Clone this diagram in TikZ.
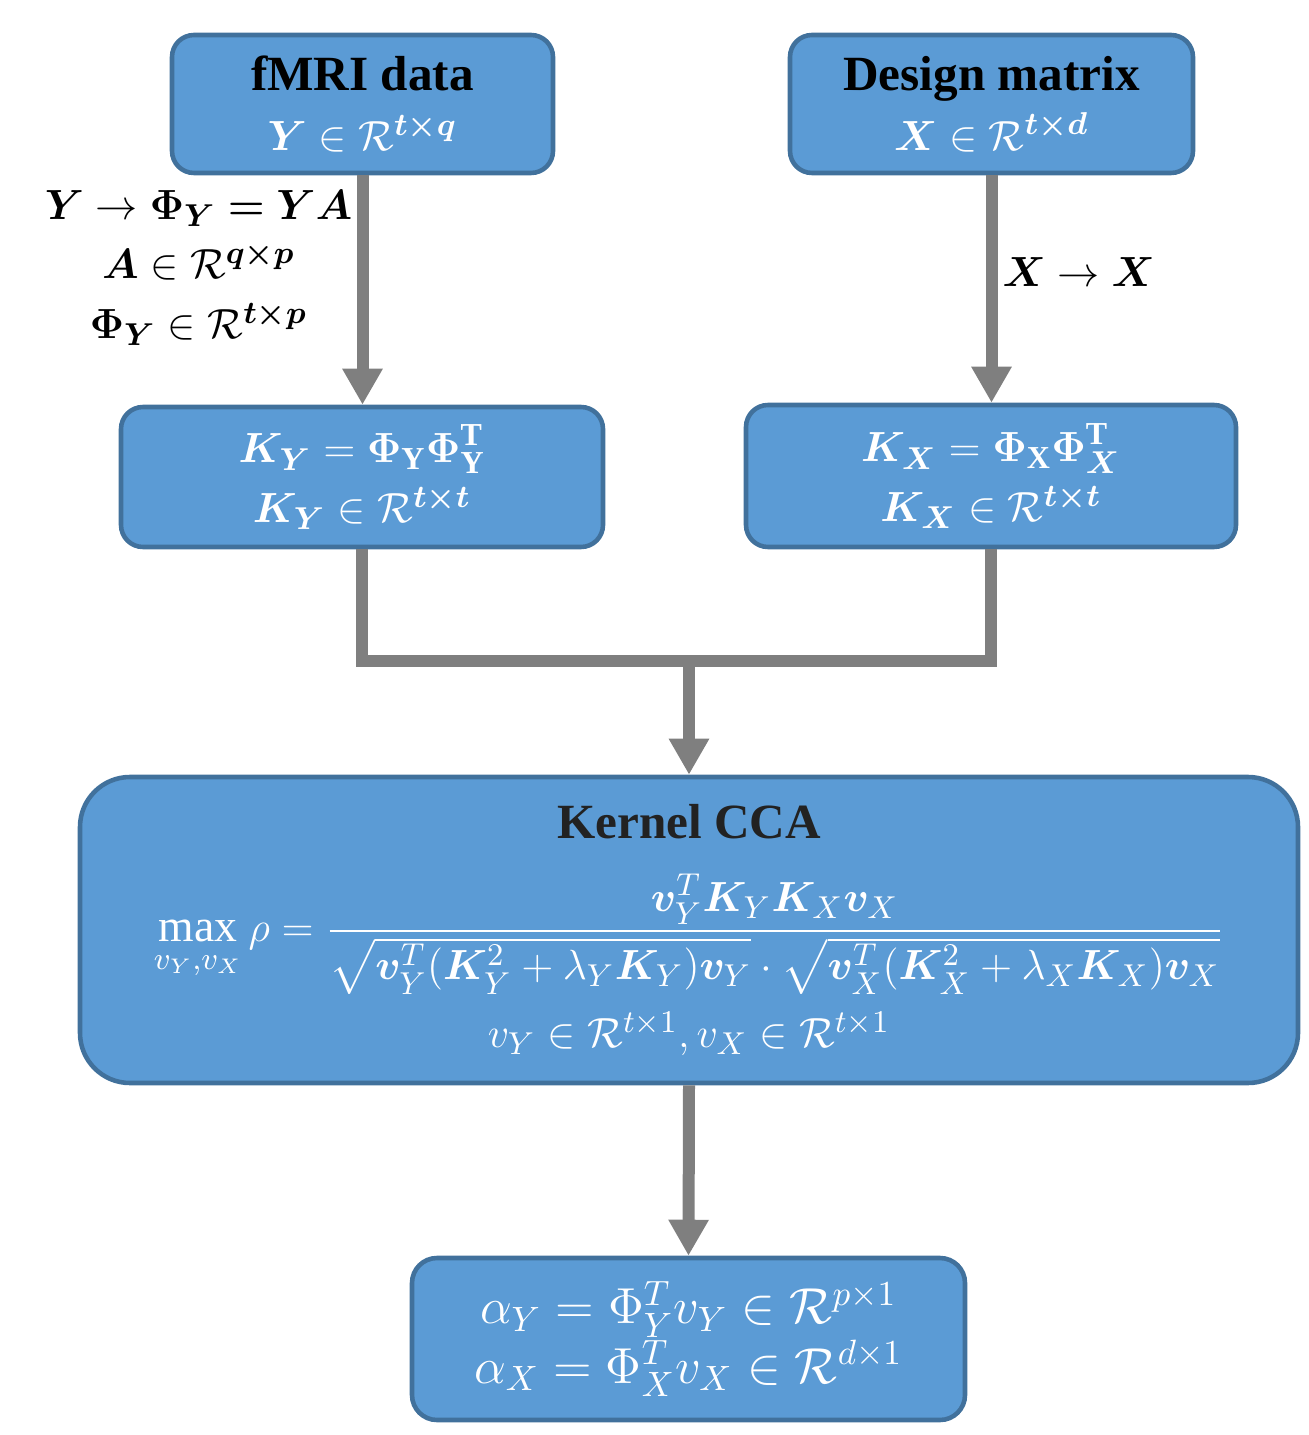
\documentclass[tikz,border=0pt]{standalone}
\usepackage{amsmath}
\usepackage{amssymb}
\usepackage{bm}
\usepackage{fontspec}
\setmainfont{Liberation Serif}
\usetikzlibrary{arrows.meta,positioning}

\definecolor{boxblue}{HTML}{5B9BD5}
\definecolor{boxedge}{HTML}{41719C}
\definecolor{flowgray}{HTML}{7F7F7F}
\definecolor{titledark}{HTML}{222222}

\newcommand{\boxtitle}[2][black]{{\color{#1}\bfseries\fontsize{14}{17}\selectfont #2}}

\tikzset{
  block/.style={draw=boxedge, fill=boxblue, line width=1.3pt, rounded corners=0.22cm,
    align=center, text=white, font=\fontsize{13}{17}\selectfont, inner sep=0pt},
  maptext/.style={align=center, inner sep=0pt, font=\fontsize{12.5}{17}\selectfont},
  flow/.style={draw=flowgray, line width=0.12cm, line join=miter},
  flowarrow/.style={flow, -{Triangle[width=0.38cm,length=0.36cm]}},
}

\begin{document}
\begin{tikzpicture}
    \useasboundingbox (0,0) rectangle (13.09,-14.35);

    % input boxes
    \node[block, minimum width=3.81cm, minimum height=1.38cm] at (3.625,-1.04) (fmri)
        {\boxtitle{fMRI data}\\ $\bm{Y}\in\mathcal{R}^{\bm{t\times q}}$};
    \node[block, minimum width=4.03cm, minimum height=1.38cm] at (9.915,-1.04) (design)
        {\boxtitle{Design matrix}\\ $\bm{X}\in\mathcal{R}^{\bm{t\times d}}$};

    % kernel boxes
    \node[block, minimum width=4.82cm, minimum height=1.40cm] at (3.62,-4.77) (ky)
        {$\bm{K_Y} = \bm{\Phi_{\mathrm{Y}}\Phi_{\mathrm{Y}}^{\mathrm{T}}}$\\ $\bm{K_Y}\in\mathcal{R}^{\bm{t\times t}}$};
    \node[block, minimum width=4.90cm, minimum height=1.42cm] at (9.91,-4.76) (kx)
        {$\bm{K_X} = \bm{\Phi_{\mathrm{X}}\Phi_X^{\mathrm{T}}}$\\ $\bm{K_X}\in\mathcal{R}^{\bm{t\times t}}$};

    % kernel CCA
    \node[block, rounded corners=0.5cm, minimum width=12.18cm, minimum height=3.06cm,
          font=\fontsize{13}{15}\selectfont] at (6.89,-9.30) (kcca)
        {\boxtitle[titledark]{Kernel CCA}\\[9pt]
         $\displaystyle\max_{v_Y,v_X}\rho = \frac{\bm{v}_Y^T\bm{K}_Y\bm{K}_X\bm{v}_X}
           {\sqrt{\bm{v}_Y^T(\bm{K}_Y^2+\lambda_Y\bm{K}_Y)\bm{v}_Y}\cdot\sqrt{\bm{v}_X^T(\bm{K}_X^2+\lambda_X\bm{K}_X)\bm{v}_X}}$\\[4pt]
         $v_Y\in\mathcal{R}^{t\times 1}, v_X\in\mathcal{R}^{t\times 1}$};

    % result box
    \node[block, rounded corners=0.25cm, minimum width=5.53cm, minimum height=1.62cm,
          font=\fontsize{14}{17}\selectfont] at (6.885,-13.39) (alpha)
        {$\alpha_Y = \Phi_Y^T v_Y\in\mathcal{R}^{p\times 1}$\\ $\alpha_X = \Phi_X^T v_X\in\mathcal{R}^{d\times 1}$};

    % mapping labels
    \node[maptext, anchor=east] at (3.53,-2.68) (ymap)
        {$\bm{Y}\rightarrow\bm{\Phi_Y = YA}$\\ $\bm{A}\in\mathcal{R}^{\bm{q\times p}}$\\ $\bm{\Phi_Y}\in\mathcal{R}^{\bm{t\times p}}$};
    \node[maptext, anchor=west] at (10.02,-2.72) (xmap) {$\bm{X}\rightarrow\bm{X}$};

    \coordinate (join) at (6.89,-6.61);

    \draw[flowarrow] (fmri.south) -- (fmri.south |- ky.north);
    \draw[flowarrow] (design.south) -- (design.south |- kx.north);
    \draw[flow] (ky.south) |- (join) -| (kx.south);
    \draw[flowarrow] (join) -- (kcca.north);
    \draw[flowarrow] (kcca.south) -- (alpha.north);
\end{tikzpicture}
\end{document}
